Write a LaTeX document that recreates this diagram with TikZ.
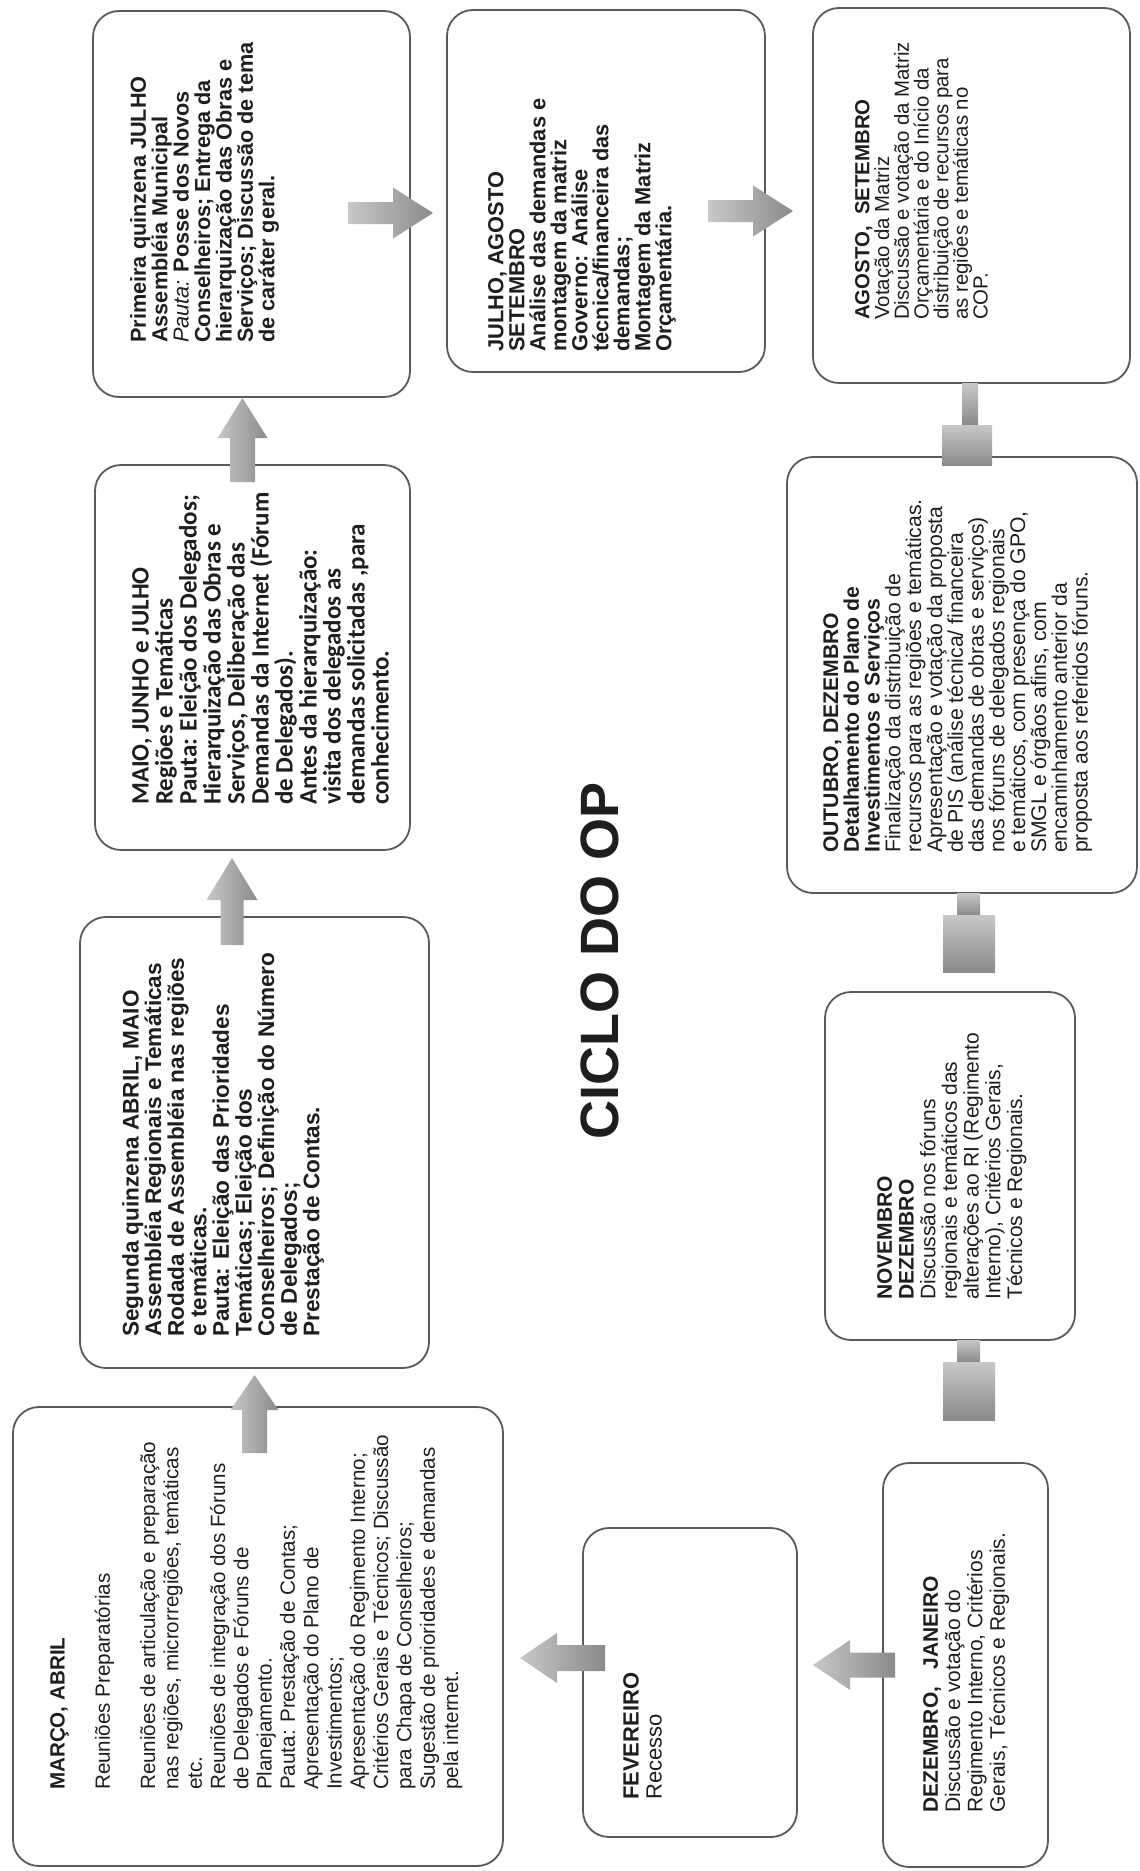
\documentclass[tikz,border=0pt]{standalone}
\usepackage{fontspec}
\setmainfont{Liberation Sans}
\newfontfamily\calfont{Carlito}
\definecolor{edge}{HTML}{5A5A5A}
\definecolor{ink}{HTML}{1E1E1E}
\definecolor{arrlight}{HTML}{C8C8C8}
\definecolor{arrdark}{HTML}{8A8A8A}
\newcommand{\blockarrow}[7]{%
  \begin{scope}[shift={(#1,#2)}, rotate=#3]
    \shade[left color=arrlight, right color=arrdark]
      (0,-#5) -- ({#4-#7},-#5) -- ({#4-#7},-#6) -- (#4,0) -- ({#4-#7},#6) -- ({#4-#7},#5) -- (0,#5) -- cycle;
  \end{scope}}
\begin{document}
\begin{tikzpicture}[x=1pt,y=-1pt,
  stagebox/.style={draw=edge, line width=1.8pt, rounded corners=26pt, fill=white, inner sep=0pt},
  txt/.style={rotate=90, anchor=north west, inner sep=0pt, align=left, text=ink},
]
\useasboundingbox (0,0) rectangle (1140,1871);
\fill[white] (0,0) rectangle (1140,1871);

% boxes
\node[stagebox, minimum width=490pt, minimum height=459pt] (b1) at (258,1636.5) {};
\node[stagebox, minimum width=349pt, minimum height=451pt] (b2) at (254.5,1142.5) {};
\node[stagebox, minimum width=315pt, minimum height=385pt] (b3) at (252.5,657.5) {};
\node[stagebox, minimum width=317pt, minimum height=386pt] (b4) at (251.5,204) {};
\node[stagebox, minimum width=318pt, minimum height=362pt] (b5) at (606,191) {};
\node[stagebox, minimum width=317pt, minimum height=375pt] (b6) at (971.5,195.5) {};
\node[stagebox, minimum width=350pt, minimum height=436pt] (b7) at (962,675) {};
\node[stagebox, minimum width=250pt, minimum height=348pt] (b8) at (950,1166) {};
\node[stagebox, minimum width=165pt, minimum height=404pt] (b9) at (965.5,1665) {};
\node[stagebox, minimum width=214pt, minimum height=309pt] (b10) at (690,1682.5) {};

% texts
\node[txt, font=\fontsize{20.6}{23.3}\selectfont] (t1) at (50,1790) {%
\textbf{MARÇO, ABRIL}\\[22pt]
Reuniões Preparatórias\\[22pt]
Reuniões de articulação e preparação\\
nas regiões, microrregiões, temáticas\\
etc.\\
Reuniões de integração dos Fóruns\\
de Delegados e Fóruns de\\
Planejamento.\\
Pauta: Prestação de Contas;\\
Apresentação do Plano de\\
Investimentos;\\
Apresentação do Regimento Interno;\\
Critérios Gerais e Técnicos; Discussão\\
para Chapa de Conselheiros;\\
Sugestão de prioridades e demandas\\
pela internet.};

\node[txt, font=\fontsize{22.6}{22.6}\selectfont\bfseries] (t2) at (122,1337) {%
Segunda quinzena ABRIL, MAIO\\
Assembléia Regionais e Temáticas\\
Rodada de Assembléia nas regiões\\
e temáticas.\\
Pauta: Eleição das Prioridades\\
Temáticas; Eleição dos\\
Conselheiros; Definição do Número\\
de Delegados;\\
Prestação de Contas.};

\node[txt, font=\calfont\fontsize{25}{24}\selectfont\bfseries] (t3) at (132,805) {%
MAIO, JUNHO e JULHO\\
Regiões e Temáticas\\
Pauta: Eleição dos Delegados;\\
Hierarquização das Obras e\\
Serviços, Deliberação das\\
Demandas da Internet (Fórum\\
de Delegados).\\
Antes da hierarquização:\\
visita dos delegados as\\
demandas solicitadas ,para\\
conhecimento.};

\node[txt, font=\fontsize{21.7}{21.4}\selectfont\bfseries] (t4) at (130,343) {%
Primeira quinzena JULHO\\
Assembléia Municipal\\
{\mdseries\itshape Pauta:} Posse dos Novos\\
Conselheiros; Entrega da\\
hierarquização das Obras e\\
Serviços; Discussão de tema\\
de caráter geral.};

\node[txt, font=\fontsize{21.8}{21}\selectfont\bfseries] (t5) at (488,352) {%
JULHO, AGOSTO\\
SETEMBRO\\
Análise das demandas e\\
montagem da matriz\\
Governo: Análise\\
técnica/financeira das\\
demandas;\\
Montagem da Matriz\\
Orçamentária.};

\node[txt, font=\fontsize{20.4}{19.7}\selectfont] (t6) at (855,320) {%
\textbf{AGOSTO,\ \ SETEMBRO}\\
Votação da Matriz\\
Discussão e votação da Matriz\\
Orçamentária e do Início da\\
distribuição de recursos para\\
as regiões e temáticas no\\
COP.};

\node[txt, font=\fontsize{21.2}{20.8}\selectfont] (t7) at (823,853) {%
\textbf{OUTUBRO, DEZEMBRO}\\
\textbf{Detalhamento do Plano de}\\
\textbf{Investimentos e Serviços}\\
Finalização da distribuição de\\
recursos para as regiões e temáticas.\\
Apresentação e votação da proposta\\
de PIS (análise técnica/ financeira\\
das demandas de obras e serviços)\\
nos fóruns de delegados regionais\\
e temáticos, com presença do GPO,\\
SMGL e órgãos afins, com\\
encaminhamento anterior da\\
proposta aos referidos fóruns.};

\node[txt, font=\fontsize{21}{21.7}\selectfont] (t8) at (877,1300) {%
\textbf{NOVEMBRO}\\
\textbf{DEZEMBRO}\\
Discussão nos fóruns\\
regionais e temáticos das\\
alterações ao RI (Regimento\\
Interno), Critérios Gerais,\\
Técnicos e Regionais.};

\node[txt, font=\fontsize{21}{22.3}\selectfont] (t9) at (923,1813) {%
\textbf{DEZEMBRO,\ \ \ JANEIRO}\\
Discussão e votação do\\
Regimento Interno, Critérios\\
Gerais, Técnicos e Regionais.};

\node[txt, font=\fontsize{22}{23}\selectfont] (t10) at (623,1800) {%
\textbf{FEVEREIRO}\\
Recesso};

\node[txt, font=\fontsize{54}{56}\selectfont\bfseries] (title) at (581,1140) {CICLO DO OP};

% arrows
\blockarrow{254.5}{1453}{90}{78}{12.5}{24}{35}
\blockarrow{232}{945}{90}{87}{11.5}{25.5}{42}
\blockarrow{242.5}{482}{90}{84}{12.5}{25}{40}
\blockarrow{348}{213}{0}{85}{11}{25.5}{40}
\blockarrow{708}{211}{0}{85}{11}{25.5}{40}
\blockarrow{895}{1665}{180}{82}{12.5}{25}{37}
\blockarrow{605}{1658}{180}{85}{13}{25}{37}

% downward connectors (head hidden)
\shade[top color=arrlight, bottom color=arrdark] (962,383) rectangle (978,425);
\shade[top color=arrlight, bottom color=arrdark] (942,425) rectangle (992,465);
\shade[top color=arrlight, bottom color=arrdark] (957,893) rectangle (980,915);
\shade[top color=arrlight, bottom color=arrdark] (943,915) rectangle (995,972);
\shade[top color=arrlight, bottom color=arrdark] (957,1340) rectangle (980,1362);
\shade[top color=arrlight, bottom color=arrdark] (943,1362) rectangle (995,1420);
\end{tikzpicture}
\end{document}
